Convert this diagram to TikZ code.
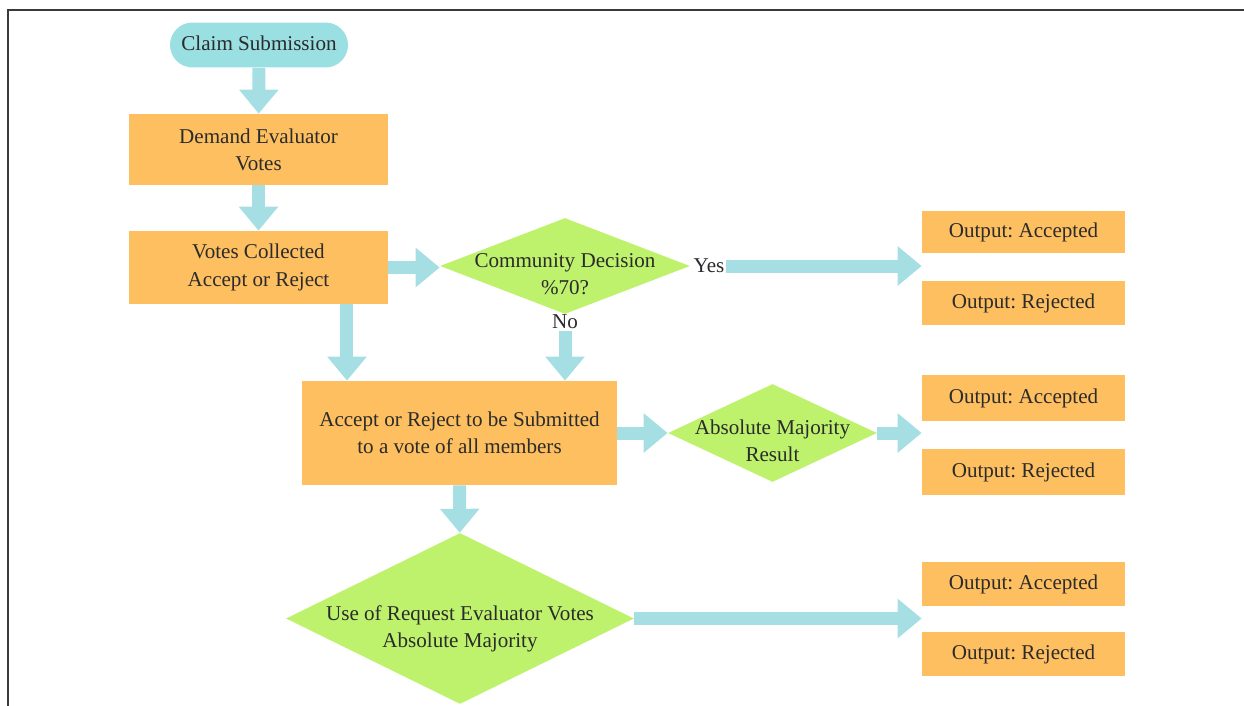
\documentclass[tikz,border=0pt]{standalone}
\usepackage{fontspec}
\setmainfont{Liberation Serif}
\frenchspacing
\usetikzlibrary{shapes.geometric,arrows.meta}
\definecolor{flowcyan}{HTML}{A6DFE3}
\definecolor{pillcyan}{HTML}{9ADFE2}
\definecolor{boxorange}{HTML}{FDBF60}
\definecolor{decgreen}{HTML}{BEF26C}
\definecolor{inkgray}{HTML}{2B2B2B}
\definecolor{framegray}{HTML}{3A3A3A}
\newcommand{\dlabel}[1]{\makebox[0pt]{\raisebox{-0.3cm}[0pt][0pt]{\begin{tabular}{@{}c@{}}#1\end{tabular}}}}

\begin{document}
\begin{tikzpicture}[x=0.02cm,y=-0.02cm,
          every node/.style={font=\fontsize{12}{15.5}\selectfont, text=inkgray},
          pill/.style={fill=pillcyan, rounded corners=0.45cm, minimum width=3.56cm, minimum height=0.9cm},
          box/.style={fill=boxorange, align=center},
          outbox/.style={box, minimum width=4.06cm, minimum height=0.88cm},
          dec/.style={diamond, fill=decgreen, inner sep=0pt},
          tag/.style={inner sep=1pt},
          flow/.style={draw=flowcyan, line width=0.26cm, -{Triangle[width=0.76cm,length=0.48cm]}}]
          \useasboundingbox (0,0) rectangle (1244,706);
          \draw[line width=0.03cm, framegray] (8,706) -- (8,10) -- (1244,10);

          \node[pill] (claim) at (259,45) {\raisebox{0.08cm}{Claim Submission}};
          \node[box, minimum width=5.18cm, minimum height=1.42cm] (demand) at (258.5,149.5) {Demand Evaluator\\Votes};
          \node[box, minimum width=5.18cm, minimum height=1.46cm] (votes) at (258.5,267.5) {Votes Collected\\Accept or Reject};
          \node[dec, minimum width=5cm, minimum height=1.92cm] (community) at (565,266) {\dlabel{Community Decision\\\%70?}};
          \node[tag] (yes) at (709,266) {Yes};
          \node[tag] (no) at (565,322) {No};
          \node[box, minimum width=6.3cm, minimum height=2.08cm] (accept) at (459.5,433) {Accept or Reject to be Submitted\\to a vote of all members};
          \node[dec, minimum width=4.18cm, minimum height=1.96cm] (absolute) at (772.5,433) {\dlabel{Absolute Majority\\Result}};
          \node[dec, minimum width=6.96cm, minimum height=3.42cm] (request) at (460,618.5) {\dlabel{Use of Request Evaluator Votes\\Absolute Majority}};

          \node[outbox, minimum height=0.84cm] (acceptedA) at (1023.5,232) {Output: Accepted};
          \node[outbox] (rejectedA) at (1023.5,303) {Output: Rejected};
          \node[outbox, minimum height=0.92cm] (acceptedB) at (1023.5,398) {Output: Accepted};
          \node[outbox, minimum height=0.92cm] (rejectedB) at (1023.5,472) {Output: Rejected};
          \node[outbox] (acceptedC) at (1023.5,584) {Output: Accepted};
          \node[outbox] (rejectedC) at (1023.5,654) {Output: Rejected};

          \draw[flow] (claim) -- (demand);
          \draw[flow] (demand) -- (votes);
          \draw[flow] (votes.east) -- (votes.east -| community.west);
          \draw[flow] (yes.east) -- (yes.east -| acceptedA.west);
          \draw[flow] (no.south) -- (no.south |- accept.north);
          \draw[flow] ([xshift=1.77cm]votes.south) -- ([xshift=1.77cm]votes.south |- accept.north);
          \draw[flow] (accept) -- (absolute);
          \draw[flow] (absolute.east) -- (absolute.east -| acceptedB.west);
          \draw[flow] (accept) -- (request);
          \draw[flow] (request.east) -- (request.east -| acceptedC.west);
        \end{tikzpicture}
\end{document}
